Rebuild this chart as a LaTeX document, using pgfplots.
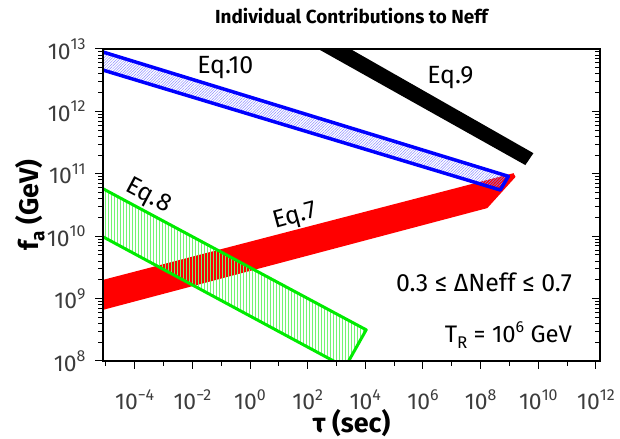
\documentclass[border=0pt]{standalone}
\usepackage{fontspec}
\setmainfont{Fira Sans}
\usepackage{pgfplots}
\pgfplotsset{compat=1.18}
\usetikzlibrary{patterns.meta}

\definecolor{eqgreen}{RGB}{0,235,0}
\definecolor{ticktext}{RGB}{60,60,60}
% superscript / subscript at a given size
\newcommand{\sps}[2]{\raisebox{0.42em}{\fontsize{#1}{#1}\selectfont #2}}
\newcommand{\sbs}[2]{\raisebox{-0.22em}{\fontsize{#1}{#1}\selectfont #2}}

\begin{document}
\begin{tikzpicture}
\begin{axis}[
  name=main,
  scale only axis, width=497bp, height=312bp,
  xmode=log, ymode=log,
  xmin=7.94e-6, xmax=1.38e12,
  ymin=1e8, ymax=1e13,
  ytick={1e8,1e9,1e10,1e11,1e12,1e13},
  minor ytick={2e8,3e8,4e8,5e8,6e8,7e8,8e8,9e8,
               2e9,3e9,4e9,5e9,6e9,7e9,8e9,9e9,
               2e10,3e10,4e10,5e10,6e10,7e10,8e10,9e10,
               2e11,3e11,4e11,5e11,6e11,7e11,8e11,9e11,
               2e12,3e12,4e12,5e12,6e12,7e12,8e12,9e12},
  major tick length=8bp, minor tick length=5bp,
  tick style={black, line width=1bp},
  xtick={1e-4,1e-2,1,1e2,1e4,1e6,1e8,1e10,1e12},
  xticklabels={10\sps{16}{−4},10\sps{16}{−2},10\sps{16}{0},10\sps{16}{2},10\sps{16}{4},10\sps{16}{6},10\sps{16}{8},10\sps{16}{10},10\sps{16}{12}},
  minor xtick={1e-5,1e-3,1e-1,10,1e3,1e5,1e7,1e9,1e11},
  yticklabels={10\sps{16}{8},10\sps{16}{9},10\sps{16}{10},10\sps{16}{11},10\sps{16}{12},10\sps{16}{13}},
  xtick pos=bottom, ytick pos=left,
  tick align=outside,
  tick label style={font=\fontsize{23}{25}\selectfont, text=ticktext},
  xticklabel style={anchor=base, yshift=-41bp},
  yticklabel style={xshift=-6bp},
  title={Individual Contributions to Neff},
  title style={font=\fontsize{19}{21}\selectfont\bfseries, at={(axis description cs:0.5,1)}, anchor=base, yshift=20bp},
  xlabel={τ (sec)},
  xlabel style={font=\fontsize{27}{29}\selectfont\bfseries, at={(axis description cs:0.5,0)}, anchor=base, yshift=-72bp},
  ylabel={f\sbs{19}{a} (GeV)},
  ylabel style={font=\fontsize{27}{29}\selectfont\bfseries, at={(axis description cs:0,0.5)}, anchor=center, yshift=73bp},
]
% Eq.7 (red band)
\addplot[fill=red, draw=none] coordinates {
  (5.01e-6,1.888e9) (1.38e9,1.023e11) (1.62e9,8.91e10) (1.70e8,2.82e10) (5.01e-6,6.24e8)
} -- cycle;
% Eq.9 (black band)
\addplot[fill=black, draw=none] coordinates {
  (95.5,1.259e13) (1259,1.259e13) (6.76e9,2.14e11) (3.55e9,1.38e11)
} -- cycle;
% Eq.10 (blue hatched band)
\addplot[draw=blue, line width=3.5bp, line join=round,
  pattern={Lines[angle=45,distance=2bp,line width=0.5bp]}, pattern color=blue!45] coordinates {
  (5.01e-6,9.55e12) (9.12e8,9.12e10) (4.79e8,5.50e10) (5.01e-6,4.90e12)
} -- cycle;
% Eq.8 (green hatched band)
\addplot[draw=eqgreen, line width=3bp, line join=round,
  pattern={Lines[angle=90,distance=3bp,line width=0.6bp]}, pattern color=eqgreen!55] coordinates {
  (5.01e-6,6.46e10) (1.07e4,3.16e8) (1995,7.94e7) (5.01e-6,1.096e10)
} -- cycle;

\node[font=\fontsize{25}{27}\selectfont] at (axis cs:0.138,5.1e12) {Eq.10};
\node[font=\fontsize{25}{27}\selectfont] at (axis cs:8.9e6,3.43e12) {Eq.9};
\node[font=\fontsize{25}{27}\selectfont, rotate=-28, inner sep=0pt] at (axis cs:2.88e-4,4.27e10) {Eq.8};
\node[font=\fontsize{25}{27}\selectfont, rotate=15, inner sep=0pt] at (axis cs:37,2.04e10) {Eq.7};
\node[font=\fontsize{25}{27}\selectfont, anchor=east, inner sep=0pt] at (axis description cs:0.944,0.253) {0.3 ≤ ΔNeff ≤ 0.7};
\node[font=\fontsize{24}{26}\selectfont, anchor=east, inner sep=0pt] at (axis description cs:0.944,0.083) {T\sbs{17}{R} = 10\sps{16}{6} GeV};
\end{axis}
% right-hand ticks, pointing inward
\begin{axis}[
  scale only axis, width=497bp, height=312bp,
  xmode=log, ymode=log,
  xmin=7.94e-6, xmax=1.38e12,
  ymin=1e8, ymax=1e13,
  ytick={1e8,1e9,1e10,1e11,1e12,1e13},
  minor ytick={2e8,3e8,4e8,5e8,6e8,7e8,8e8,9e8,
               2e9,3e9,4e9,5e9,6e9,7e9,8e9,9e9,
               2e10,3e10,4e10,5e10,6e10,7e10,8e10,9e10,
               2e11,3e11,4e11,5e11,6e11,7e11,8e11,9e11,
               2e12,3e12,4e12,5e12,6e12,7e12,8e12,9e12},
  major tick length=8bp, minor tick length=5bp,
  tick style={black, line width=1bp},
  axis line style={draw=none},
  xtick=\empty,
  ytick pos=right, tick align=inside,
  yticklabels={},
]
\end{axis}
% thick frame
\draw[line width=2.4bp] (main.south west) rectangle (main.north east);
\pgfresetboundingbox
\path ([shift={(-103bp,-78bp)}]main.south west) rectangle ([shift={(20bp,49bp)}]main.north east);
\end{tikzpicture}
\end{document}
